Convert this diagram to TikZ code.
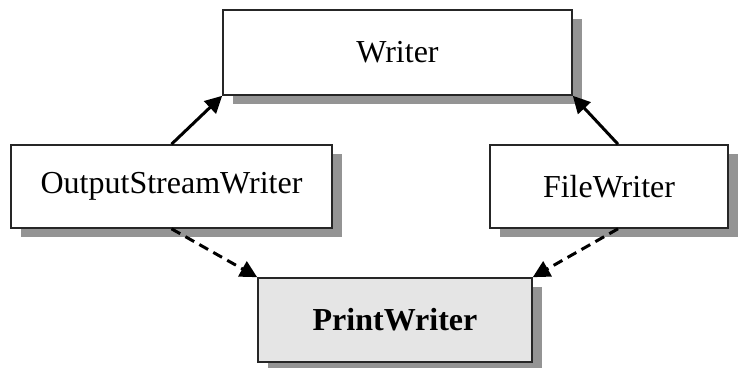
\documentclass[tikz,border=0pt]{standalone}
\usepackage{fontspec}
\setmainfont{Liberation Serif}
\usetikzlibrary{arrows.meta,shadows}
\begin{document}
\begin{tikzpicture}[x=1pt,y=-1pt,
  cls/.style={draw=black!85, line width=1.6pt, fill=white, rectangle, inner sep=0pt,
    font=\fontsize{32}{36}\selectfont,
    drop shadow={shadow xshift=10pt, shadow yshift=-9pt, fill=black!42, opacity=1}},
  inh/.style={line width=3pt, -{Triangle[length=17pt,width=17pt]}},
  impl/.style={inh, dash pattern=on 10pt off 6pt}]
\useasboundingbox (0,0) rectangle (742,367);
\node[cls, minimum width=349pt, minimum height=85pt] (w) at (397.5,52.5) {Writer};
\node[cls, minimum width=321pt, minimum height=83pt] (osw) at (171.5,186.5) {OutputStreamWriter};
\node[cls, minimum width=238pt, minimum height=83pt] (fw) at (609,186.5) {FileWriter};
\node[cls, fill=black!10, minimum width=274pt, minimum height=84pt, font=\fontsize{32}{36}\selectfont\bfseries] (pw) at (395,320) {PrintWriter};
\draw[inh] (osw.north) -- (w.south west);
\draw[inh] ([xshift=9pt]fw.north) -- (w.south east);
\draw[impl] (osw.south) -- (pw.north west);
\draw[impl] ([xshift=9pt]fw.south) -- (pw.north east);
\end{tikzpicture}
\end{document}
